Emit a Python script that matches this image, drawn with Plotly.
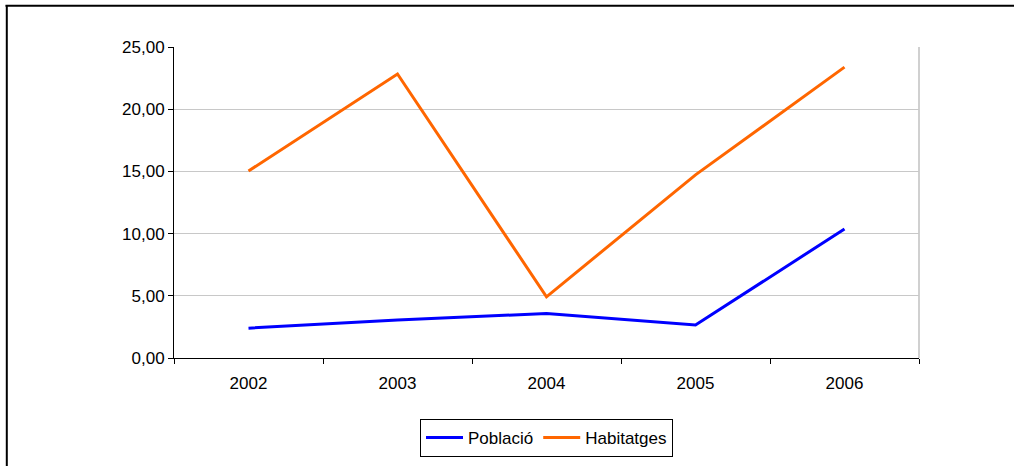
import plotly.graph_objects as go

years = ["2002", "2003", "2004", "2005", "2006"]
poblacio = [2.40, 3.05, 3.58, 2.65, 10.37]
habitatges = [15.03, 22.83, 4.92, 14.72, 23.38]

W, H = 1014, 466
L, R, T, B = 174, 919, 47, 358

def px_x(p):
    return (p - L) / (R - L)

def px_y(p):
    return (B - p) / (B - T)

fig = go.Figure()
fig.add_trace(go.Scatter(x=years, y=poblacio, name="Població", mode="lines",
                         line=dict(color="#0000FF", width=3)))
fig.add_trace(go.Scatter(x=years, y=habitatges, name="Habitatges", mode="lines",
                         line=dict(color="#FF6600", width=3)))

fig.update_layout(
    width=W, height=H,
    margin=dict(l=L, r=W - R, t=T, b=H - B, pad=0, autoexpand=False),
    paper_bgcolor="white", plot_bgcolor="white",
    separators=",.",
    font=dict(family="Liberation Sans, Arial, sans-serif", size=17, color="black"),
    showlegend=True,
    legend=dict(orientation="h", x=0.5, xanchor="center",
                yref="container", y=(H - 419) / H, yanchor="top",
                bordercolor="black", borderwidth=1, bgcolor="white",
                font=dict(size=17), itemwidth=37, tracegroupgap=0),
    xaxis=dict(type="category", range=[-0.5, 4.5], showgrid=False,
               showline=True, linecolor="#000000", linewidth=1,
               ticks="outside", ticklen=5, tickcolor="#000000", tickson="boundaries",
               ticklabelstandoff=10),
    yaxis=dict(range=[0, 25], dtick=5, tickformat=".2f", showgrid=True,
               gridcolor="#c8c8c8", gridwidth=1, zeroline=False,
               showline=True, linecolor="#000000", linewidth=1,
               ticks="outside", ticklen=5, tickcolor="#000000"),
    shapes=[
        dict(type="line", xref="paper", yref="paper", x0=1, x1=1, y0=0, y1=1,
             line=dict(color="#c0c0c0", width=1.5), layer="below"),
        dict(type="line", xref="paper", yref="paper", x0=px_x(5.5), x1=px_x(1014),
             y0=px_y(5.8), y1=px_y(5.8), line=dict(color="black", width=2)),
        dict(type="line", xref="paper", yref="paper", x0=px_x(6.8), x1=px_x(6.8),
             y0=px_y(5), y1=px_y(466), line=dict(color="black", width=2)),
    ],
)

fig.write_html("out.html", config={"displayModeBar": False},
               post_script="document.body.style.margin='0';document.body.style.overflow='hidden';")
